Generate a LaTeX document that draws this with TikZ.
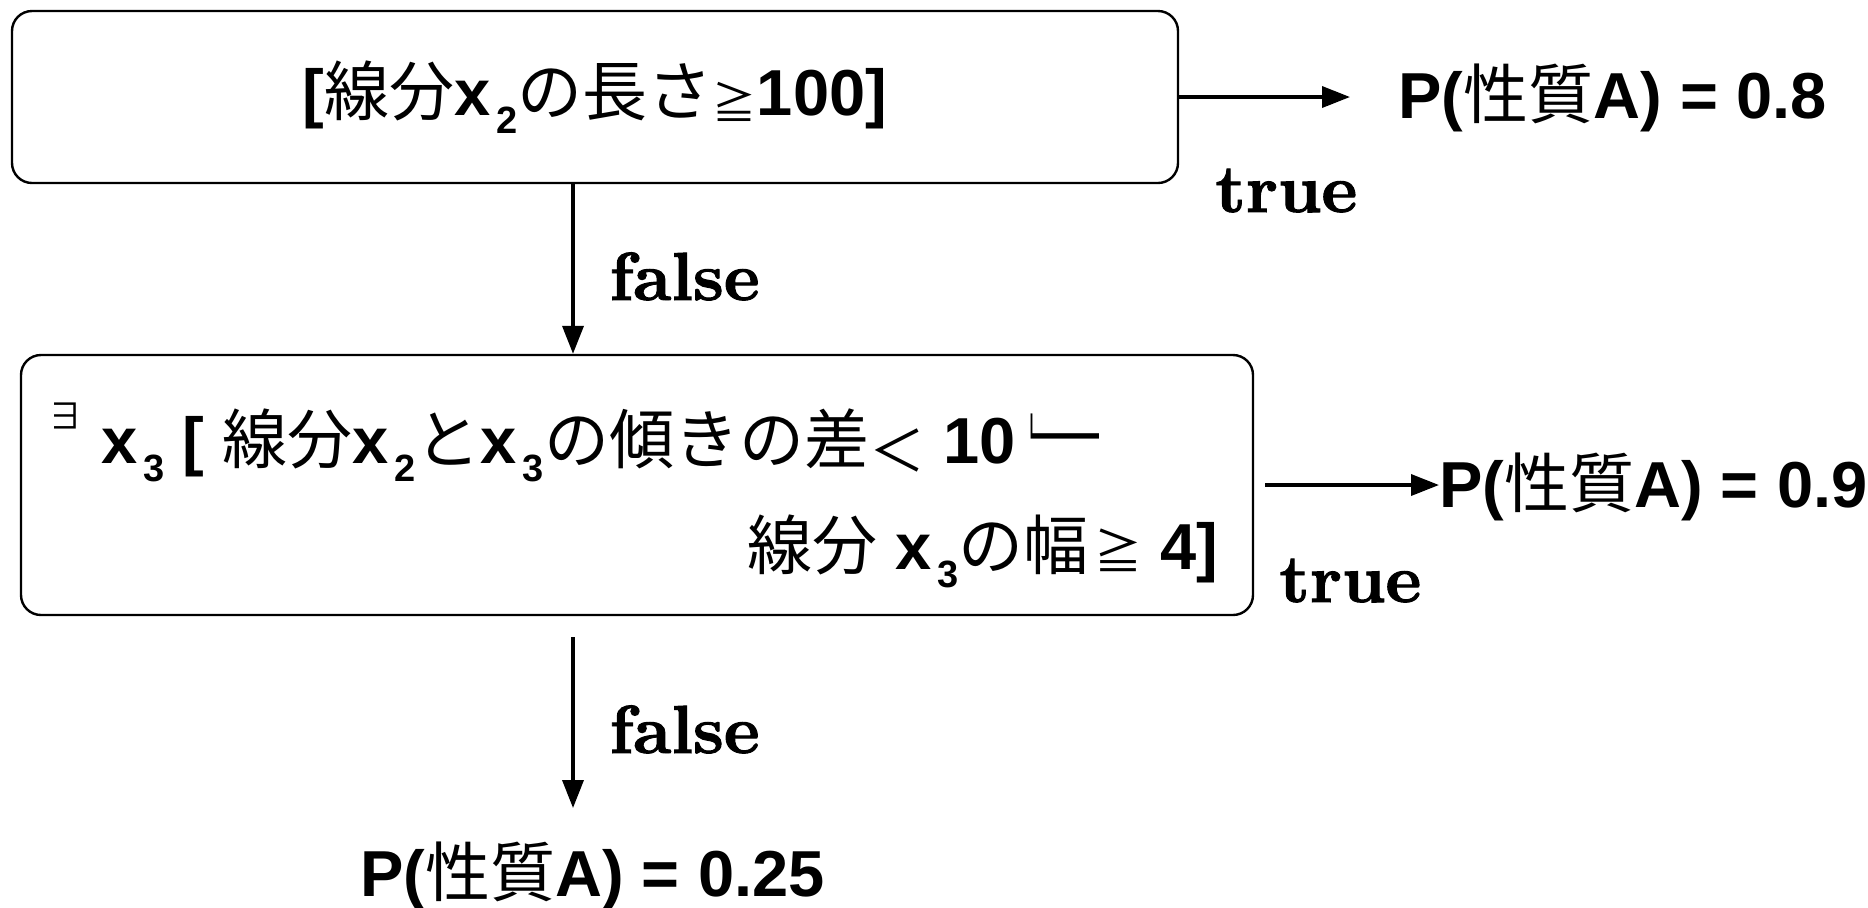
\documentclass[tikz,border=0pt]{standalone}
\usepackage{fontspec}
\newfontfamily\hvf{Liberation Sans}
\newfontfamily\jpf{Noto Sans CJK JP}
\newfontfamily\lmbf{lmroman10-bold}[Extension=.otf, FakeBold=1.4]
\usetikzlibrary{arrows.meta}

% Latin pieces (bold sans), Japanese pieces, and lowered index digits
\newcommand\hb[1]{{\hvf\bfseries #1}}
\newcommand\jt[1]{{\jpf #1}}
\newcommand\sbs[1]{\hspace{3pt}\raisebox{-9pt}{\fontsize{19pt}{19pt}\selectfont\hvf\bfseries #1}}
\newcommand\sym[3]{\raisebox{#2}{\fontsize{#1}{#1}\selectfont\jpf #3}}

\tikzset{
  box/.style={draw, line width=1.2pt, rounded corners=10pt, inner sep=0pt},
  flow/.style={line width=1.8pt, -{Triangle[length=14pt,width=10.5pt]}},
  main/.style={font=\fontsize{32.5pt}{38pt}\selectfont, inner sep=0pt},
  tf/.style={font=\fontsize{34pt}{40pt}\selectfont\lmbf, inner sep=0pt},
}

\begin{document}
\begin{tikzpicture}[x=0.5pt,y=-0.5pt]
\useasboundingbox (0,0) rectangle (1868,907);

% decision boxes
\node[box, minimum width=583pt, minimum height=86pt, main] (box1) at (595,97)
  {\hb{[}\jt{線分}\hb{x}\sbs{2}\jt{の長さ}\sym{22pt}{-2pt}{≧}\hb{100]}};
\node[box, minimum width=616pt, minimum height=130pt] (box2) at (637,485) {};

% condition text of the second box
\node[main, anchor=base west] (q1) at (47,463)
  {\sym{18pt}{17pt}{∃}\hspace{9pt}\hb{x}\sbs{3}\hb{ [ }\jt{線分}\hb{x}\sbs{2}\jt{と}\hb{x}\sbs{3}\jt{の傾きの差}\sym{28pt}{-4pt}{＜}\hb{ 10}\hspace{-3pt}\sym{22.5pt}{5pt}{┕━}};
\node[main, anchor=base east] (q2) at (1219,569)
  {\jt{線分}\hb{ x}\sbs{3}\jt{の幅}\hspace{3pt}\sym{24pt}{0pt}{≧}\hspace{9pt}\hb{4]}};

% outcomes
\node[main, anchor=base west] (res1) at (1398,118) {\hb{P(}\jt{性質}\hb{A) = 0.8}};
\node[main, anchor=base west] (res2) at (1439,507) {\hb{P(}\jt{性質}\hb{A) = 0.9}};
\node[main, anchor=base west] (res3) at (360,896) {\hb{P(}\jt{性質}\hb{A) = 0.25}};

% branch labels
\node[tf, anchor=base west] (t1) at (1215,212) {true};
\node[tf, anchor=base west] (t2) at (1279,602) {true};
\node[tf, anchor=base west] (f1) at (609,300) {false};
\node[tf, anchor=base west] (f2) at (609,753) {false};

% connectors
\coordinate (col) at (573,0);
\coordinate (e1) at (1350,97);
\coordinate (s2) at (1265,485);
\coordinate (s3) at (573,637);
\coordinate (e3) at (573,808);
\draw[flow] (box1.south -| col) -- (box2.north -| col);
\draw[flow] (box1.east) -- (e1);
\draw[flow] (s2) -- (s2 -| res2.west);
\draw[flow] (s3) -- (e3);
\end{tikzpicture}
\end{document}
